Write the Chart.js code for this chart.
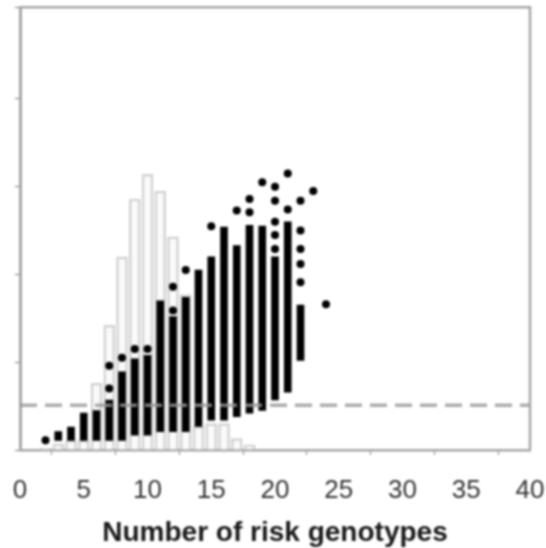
<!DOCTYPE html>
<html>
<head>
<meta charset="utf-8">
<script src="https://cdn.jsdelivr.net/npm/chart.js@4/dist/chart.umd.min.js"></script>
<style>
  html, body { margin: 0; background: #fff; }
  canvas { display: block; filter: blur(0.9px); }
</style>
</head>
<body>
<canvas id="chart" width="546" height="548"></canvas>
<script>
// values, y is in tick units (the original has no y labels)
const histX = [2, 3, 4, 5, 6, 7, 8, 9, 10, 11, 12, 13, 14, 15, 16, 17, 18];
const histY = [0.02, 0.07, 0.11, 0.11, 0.76, 1.42, 2.2, 2.86, 3.14, 2.95, 2.43, 1.77, 0.27, 0.3, 0.3, 0.13, 0.06];

const rangeX = [3, 4, 5, 6, 7, 8, 9, 10, 11, 12, 13, 14, 15, 16, 17, 18, 19, 20, 21, 22];
const rangeLow = [0.11, 0.11, 0.11, 0.11, 0.11, 0.11, 0.17, 0.17, 0.21, 0.21, 0.21, 0.27, 0.34, 0.34, 0.38, 0.42, 0.45, 0.57, 0.66, 1.02];
const rangeHigh = [0.21, 0.26, 0.42, 0.45, 0.57, 0.89, 1.04, 1.08, 1.7, 1.52, 1.74, 2.05, 2.2, 2.54, 2.33, 2.56, 2.55, 2.2, 2.6, 1.65];

const outlierX = [2, 7, 7, 8, 9, 10, 12, 12, 13, 15, 17, 18, 18, 19, 20, 20, 20, 20, 20, 21, 21, 22, 22, 22, 22, 22, 23, 24];
const outlierY = [0.11, 0.7, 0.96, 1.05, 1.15, 1.15, 1.59, 1.86, 2.05, 2.55, 2.73, 2.86, 2.71, 3.05, 3.0, 2.84, 2.6, 2.45, 2.29, 3.15, 2.74, 2.84, 2.5, 2.29, 2.12, 1.91, 2.95, 1.66];

const cutoffX = [0, 40];
const cutoffY = [0.51, 0.51];

const xTitle = 'Number of risk genotypes';

const axisGrey = '#a6a6a6';

const frame = {
  id: 'frame',
  afterDraw(chart) {
    const { ctx, chartArea: a } = chart;
    ctx.save();
    ctx.strokeStyle = axisGrey;
    ctx.lineWidth = 2.5;
    ctx.beginPath();
    ctx.moveTo(a.left, a.top);
    ctx.lineTo(a.right, a.top);
    ctx.lineTo(a.right, a.bottom);
    ctx.stroke();
    ctx.restore();
  }
};

new Chart(document.getElementById('chart').getContext('2d'), {
  type: 'bar',
  data: {
    datasets: [
      {
        type: 'line',
        data: cutoffX.map((x, i) => ({ x, y: cutoffY[i] })),
        borderColor: 'rgba(150,150,150,0.8)',
        borderWidth: 3.5,
        borderDash: [17, 8],
        pointRadius: 0,
        order: 1
      },
      {
        type: 'scatter',
        data: outlierX.map((x, i) => ({ x, y: outlierY[i] })),
        backgroundColor: '#000',
        borderWidth: 0,
        pointRadius: 4,
        order: 2
      },
      {
        data: rangeX.map((x, i) => ({ x, y: [rangeLow[i], rangeHigh[i]] })),
        backgroundColor: '#000',
        barThickness: 7,
        grouped: false,
        order: 3
      },
      {
        data: histX.map((x, i) => ({ x, y: histY[i] })),
        backgroundColor: '#fafafa',
        borderColor: '#d2d2d2',
        borderWidth: 2.5,
        barThickness: 11,
        grouped: false,
        order: 4
      }
    ]
  },
  options: {
    responsive: false,
    animation: false,
    layout: { padding: { left: 0, right: 16, top: 6, bottom: 0 } },
    plugins: { legend: { display: false }, tooltip: { enabled: false } },
    scales: {
      x: {
        type: 'linear',
        offset: false,
        min: 0,
        max: 40,
        afterFit(scale) {
          scale.height = 98;
          // keep the plot edges fixed, the labels may hang over them
          scale.paddingLeft = 0;
          scale.paddingRight = 0;
        },
        border: { color: axisGrey, width: 2.5 },
        grid: { drawOnChartArea: false, tickColor: '#888', tickLength: 5 },
        ticks: {
          stepSize: 5,
          maxRotation: 0,
          padding: 20,
          color: '#333',
          font: { family: '"Liberation Sans"', size: 26 }
        },
        title: {
          display: true,
          text: xTitle,
          color: '#1a1a1a',
          padding: { top: 10, bottom: -2 },
          font: { family: '"Liberation Sans"', size: 28, weight: 'bold' }
        }
      },
      y: {
        min: 0,
        max: 5.045,
        afterFit(scale) { scale.width = 20; },
        border: { color: axisGrey, width: 3 },
        grid: { drawOnChartArea: false, tickColor: '#777', tickLength: 5 },
        ticks: { stepSize: 1, padding: 0, callback: () => '' }
      }
    }
  },
  plugins: [frame]
});
</script>
</body>
</html>
